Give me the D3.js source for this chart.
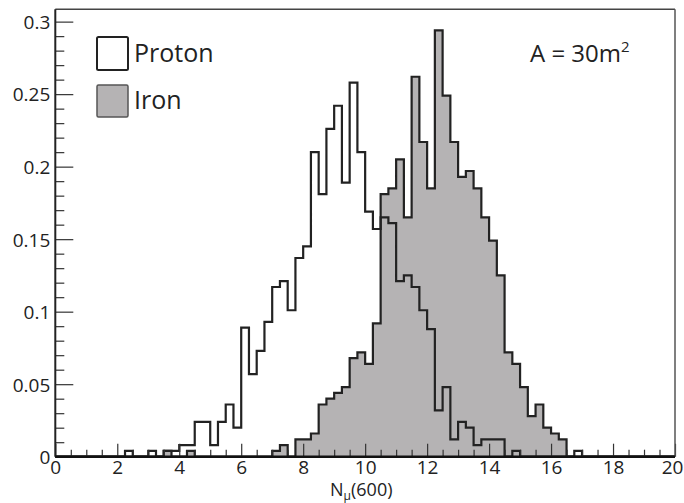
<!DOCTYPE html>
<html>
<head>
<meta charset="utf-8">
<script src="https://cdn.jsdelivr.net/npm/d3@7"></script>
<style>
  html, body { margin: 0; padding: 0; background: #fff; }
  svg { display: block; font-family: "Open Sans", "DejaVu Sans", sans-serif; }
</style>
</head>
<body>
<svg id="chart" width="684" height="503"></svg>
<script>
// Histogram bins: 80 bins of width 0.25 from 0 to 20 (N_mu(600))
const binWidth = 0.25;
const binCount = 80;

// Proton distribution (normalised), one value per bin
const proton = [
  0, 0, 0, 0, 0, 0, 0, 0, 0, 0.004,          // 0.00 - 2.50
  0, 0, 0.004, 0, 0.004, 0.004, 0.008, 0.008, 0.024, 0.024, // 2.50 - 5.00
  0.008, 0.024, 0.036, 0.020, 0.089, 0.057, 0.073, 0.093, 0.117, 0.121, // 5.00 - 7.50
  0.101, 0.137, 0.145, 0.210, 0.181, 0.226, 0.242, 0.189, 0.258, 0.210, // 7.50 - 10.00
  0.169, 0.157, 0.165, 0.161, 0.121, 0.125, 0.117, 0.101, 0.088, 0.032, // 10.00 - 12.50
  0.048, 0.012, 0.024, 0.020, 0.008, 0.012, 0.012, 0.012, 0, 0.004,    // 12.50 - 15.00
  0, 0, 0, 0, 0, 0, 0, 0.004, 0, 0,          // 15.00 - 17.50
  0, 0, 0, 0, 0, 0, 0, 0, 0, 0               // 17.50 - 20.00
];

// Iron distribution (normalised), one value per bin
const iron = [
  0, 0, 0, 0, 0, 0, 0, 0, 0, 0,
  0, 0, 0, 0, 0.004, 0, 0, 0.004, 0, 0,
  0, 0, 0, 0, 0, 0, 0, 0, 0.004, 0.008,
  0, 0.012, 0.012, 0.016, 0.036, 0.040, 0.044, 0.048, 0.068, 0.072,
  0.064, 0.092, 0.181, 0.185, 0.205, 0.165, 0.262, 0.217, 0.185, 0.294,
  0.249, 0.217, 0.193, 0.197, 0.185, 0.165, 0.149, 0.125, 0.072, 0.064,
  0.048, 0.028, 0.036, 0.020, 0.016, 0.012, 0, 0, 0, 0,
  0, 0, 0, 0, 0, 0, 0, 0, 0, 0
];

// Axis ticks
const xMajorTicks = [0, 2, 4, 6, 8, 10, 12, 14, 16, 18, 20];
const xTickLabels = ["0", "2", "4", "6", "8", "10", "12", "14", "16", "18", "20"];
const xMinorTicks = [0.5, 1, 1.5, 2.5, 3, 3.5, 4.5, 5, 5.5, 6.5, 7, 7.5, 8.5, 9, 9.5,
  10.5, 11, 11.5, 12.5, 13, 13.5, 14.5, 15, 15.5, 16.5, 17, 17.5, 18.5, 19, 19.5];
const yMajorTicks = [0, 0.05, 0.1, 0.15, 0.2, 0.25, 0.3];
const yTickLabels = ["0", "0.05", "0.1", "0.15", "0.2", "0.25", "0.3"];
const yMinorTicks = [0.01, 0.02, 0.03, 0.04, 0.06, 0.07, 0.08, 0.09, 0.11, 0.12, 0.13, 0.14,
  0.16, 0.17, 0.18, 0.19, 0.21, 0.22, 0.23, 0.24, 0.26, 0.27, 0.28, 0.29];

const seriesNames = ["Proton", "Iron"];

const svg = d3.select("#chart");
const plotLeft = 55.3, plotRight = 675, plotTop = 9.3, plotBottom = 456.7;

const x = d3.scaleLinear().domain([0, 20]).range([plotLeft, plotRight]);
const y = d3.scaleLinear().domain([0, 0.3085]).range([plotBottom, plotTop]);

// Step outline points for a histogram series
function stepPoints(values) {
  const pts = [[0, 0]];
  for (let i = 0; i < binCount; i++) pts.push([i * binWidth, values[i]]);
  pts.push([binCount * binWidth, values[binCount - 1]]);
  pts.push([binCount * binWidth, 0]);
  return pts;
}

const line = d3.line()
  .x(d => x(d[0])).y(d => y(d[1]))
  .curve(d3.curveStepAfter);
const area = d3.area()
  .x(d => x(d[0])).y0(y(0)).y1(d => y(d[1]))
  .curve(d3.curveStepAfter);

const ironFill = "#b5b3b4";
const histStroke = "#222";

// Iron: filled histogram
svg.append("path")
  .attr("d", area(stepPoints(iron)))
  .attr("fill", ironFill);
svg.append("path")
  .attr("d", line(stepPoints(iron)))
  .attr("fill", "none").attr("stroke", histStroke).attr("stroke-width", 2.2)
  .attr("stroke-linejoin", "miter");

// Proton: open histogram
svg.append("path")
  .attr("d", line(stepPoints(proton)))
  .attr("fill", "none").attr("stroke", histStroke).attr("stroke-width", 2.2)
  .attr("stroke-linejoin", "miter");

// Axes with inward ticks
const tickColor = "#333";
const fontSize = 19;

const gx = svg.append("g").attr("transform", `translate(0,${plotBottom})`);
gx.call(d3.axisBottom(x).tickValues(xMinorTicks).tickSize(-7).tickFormat(""));
const gxMaj = svg.append("g").attr("transform", `translate(0,${plotBottom})`);
gxMaj.call(d3.axisBottom(x).tickValues(xMajorTicks).tickSize(-13).tickPadding(4)
  .tickFormat((d, i) => xTickLabels[i]));

const gy = svg.append("g").attr("transform", `translate(${plotLeft},0)`);
gy.call(d3.axisLeft(y).tickValues(yMinorTicks).tickSize(-9).tickFormat(""));
const gyMaj = svg.append("g").attr("transform", `translate(${plotLeft},0)`);
gyMaj.call(d3.axisLeft(y).tickValues(yMajorTicks).tickSize(-18).tickPadding(5)
  .tickFormat((d, i) => yTickLabels[i]));

svg.selectAll(".domain").remove();
svg.selectAll(".tick line").attr("stroke", tickColor).attr("stroke-width", 1.2);
svg.selectAll(".tick text")
  .attr("font-family", "'Open Sans', sans-serif")
  .attr("font-size", fontSize).attr("fill", "#222");
gyMaj.selectAll(".tick text").attr("dy", "0.36em");
// keep the last x label inside the canvas
gxMaj.selectAll(".tick text").filter(d => d === 20).attr("dx", -3);

// Frame
svg.append("line").attr("x1", plotLeft).attr("x2", plotRight).attr("y1", plotTop).attr("y2", plotTop)
  .attr("stroke", "#444").attr("stroke-width", 1.5);
svg.append("line").attr("x1", plotRight).attr("x2", plotRight).attr("y1", plotTop).attr("y2", plotBottom)
  .attr("stroke", "#555").attr("stroke-width", 1.5);
svg.append("line").attr("x1", plotLeft).attr("x2", plotLeft).attr("y1", plotTop).attr("y2", plotBottom)
  .attr("stroke", "#222").attr("stroke-width", 2);
svg.append("line").attr("x1", plotLeft).attr("x2", plotRight).attr("y1", plotBottom).attr("y2", plotBottom)
  .attr("stroke", "#111").attr("stroke-width", 2.4);

// Legend
const legend = svg.append("g");
legend.append("rect").attr("x", 97).attr("y", 37).attr("width", 31).attr("height", 33)
  .attr("rx", 1.5).attr("fill", "#fff").attr("stroke", "#222").attr("stroke-width", 2);
legend.append("rect").attr("x", 97).attr("y", 85).attr("width", 31).attr("height", 32)
  .attr("rx", 1.5).attr("fill", ironFill).attr("stroke", "#555").attr("stroke-width", 1.5);
legend.append("text").attr("x", 134).attr("y", 62).attr("font-size", 25).attr("fill", "#222")
  .text(seriesNames[0]);
legend.append("text").attr("x", 134).attr("y", 108.5).attr("font-size", 25).attr("fill", "#222")
  .text(seriesNames[1]);

// Detector area annotation
const ann = svg.append("text").attr("x", 530).attr("y", 62).attr("font-size", 24).attr("fill", "#222");
ann.append("tspan").text("A = 30m");
ann.append("tspan").attr("font-size", 15).attr("dy", -10).text("2");

// X-axis title N_mu(600)
const title = svg.append("text").attr("x", 330).attr("y", 496).attr("font-size", 18).attr("fill", "#222");
title.append("tspan").text("N");
title.append("tspan").attr("font-size", 12).attr("dy", 4).text("μ");
title.append("tspan").attr("dy", -4).text("(600)");
</script>
</body>
</html>
